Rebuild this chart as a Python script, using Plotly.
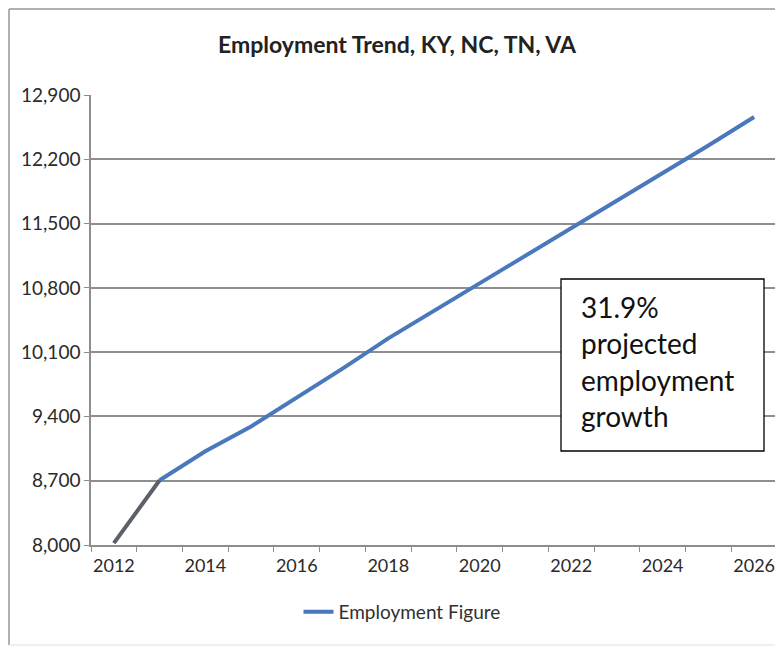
import plotly.graph_objects as go

years = [2012, 2013, 2014, 2015, 2016, 2017, 2018, 2019, 2020, 2021, 2022, 2023, 2024, 2025, 2026]
employment = [8020, 8705, 9020, 9290, 9600, 9920, 10250, 10550, 10850, 11140, 11440, 11740, 12050, 12350, 12660]
y_ticks = [8000, 8700, 9400, 10100, 10800, 11500, 12200, 12900]
x_ticks = [2012, 2014, 2016, 2018, 2020, 2022, 2024, 2026]
title_text = "Employment Trend, KY, NC, TN, VA"
series_name = "Employment Figure"
note_text = "31.9%<br>projected<br>employment<br>growth"

FONT = "Lato, 'Open Sans', sans-serif"
GRID = "#8e8e8e"
BLUE = "#4a78bd"
GRAY = "#5c6068"

fig = go.Figure()
fig.add_trace(go.Scatter(
    x=years[1:], y=employment[1:], mode="lines", name=series_name,
    line=dict(color=BLUE, width=4),
))
fig.add_trace(go.Scatter(
    x=years[:2], y=employment[:2], mode="lines", showlegend=False,
    line=dict(color=GRAY, width=4),
))

# The page has an 8px body margin; work in reference pixel coordinates and shift.
OFF = 8
W, H = 783 - OFF, 649 - OFF
PL, PR, PT, PB = 91, 777, 95, 545  # plot area in reference pixels
L, T = PL - OFF, PT - OFF
R = W - (PR - OFF)
B = H - (PB - OFF)
pw, ph = PR - PL, PB - PT

def px(x):
    return (x - PL) / pw

def py(y):
    return (PB - y) / ph

fig.update_layout(
    width=W, height=H,
    margin=dict(l=L, r=R, t=T, b=B),
    paper_bgcolor="white", plot_bgcolor="white",
    font=dict(family=FONT, color="#303030"),
    title=dict(text="<b>" + title_text + "</b>", x=px(397), xanchor="center",
               y=1 - (45 - OFF) / H, yanchor="middle", xref="paper",
               font=dict(size=23, color="#222222", family=FONT)),
    showlegend=True,
    legend=dict(orientation="h", x=px(402), xanchor="center", y=py(612), yanchor="middle",
                font=dict(size=19, color="#303030"), bgcolor="rgba(0,0,0,0)"),
    xaxis=dict(
        range=[2011.5, 2026.5], tickvals=x_ticks, ticktext=[str(v) for v in x_ticks],
        ticks="", showgrid=False, zeroline=False,
        showline=True, linecolor=GRID, linewidth=1.5,
        tickfont=dict(size=18, color="#2a2a2a"), ticklabelstandoff=4,
        minor=dict(tick0=2011.5, dtick=1, ticks="outside", ticklen=5, tickcolor=GRID, showgrid=False),
    ),
    yaxis=dict(
        range=[8000, 12900], tickvals=y_ticks, tickformat=",d",
        ticks="outside", ticklen=5, tickcolor=GRID,
        showgrid=True, gridcolor=GRID, gridwidth=1.5, zeroline=False,
        showline=True, linecolor=GRID, linewidth=1.5,
        tickfont=dict(size=19, color="#2a2a2a"),
    ),
    shapes=[
        # outer chart frame
        dict(type="line", xref="paper", yref="paper", x0=px(OFF + 1), x1=px(800), y0=py(OFF + 1), y1=py(OFF + 1),
             line=dict(color="#b0b0b0", width=2), layer="below"),
        dict(type="line", xref="paper", yref="paper", x0=px(OFF + 1), x1=px(OFF + 1), y0=py(OFF + 1), y1=py(645),
             line=dict(color="#b0b0b0", width=2), layer="below"),
        dict(type="line", xref="paper", yref="paper", x0=px(OFF + 1), x1=px(800), y0=py(645), y1=py(645),
             line=dict(color="#e0e0e0", width=1), layer="below"),
        # annotation box
        dict(type="rect", xref="paper", yref="paper", x0=px(561), x1=px(764), y0=py(451), y1=py(279),
             fillcolor="white", line=dict(color="black", width=1.3), layer="above"),
    ],
    annotations=[
        dict(text=note_text, xref="paper", yref="paper", x=px(579), y=py(361),
             xanchor="left", yanchor="middle", align="left", showarrow=False,
             font=dict(size=28, color="#111111", family=FONT)),
    ],
)

fig.write_html("out.html")
